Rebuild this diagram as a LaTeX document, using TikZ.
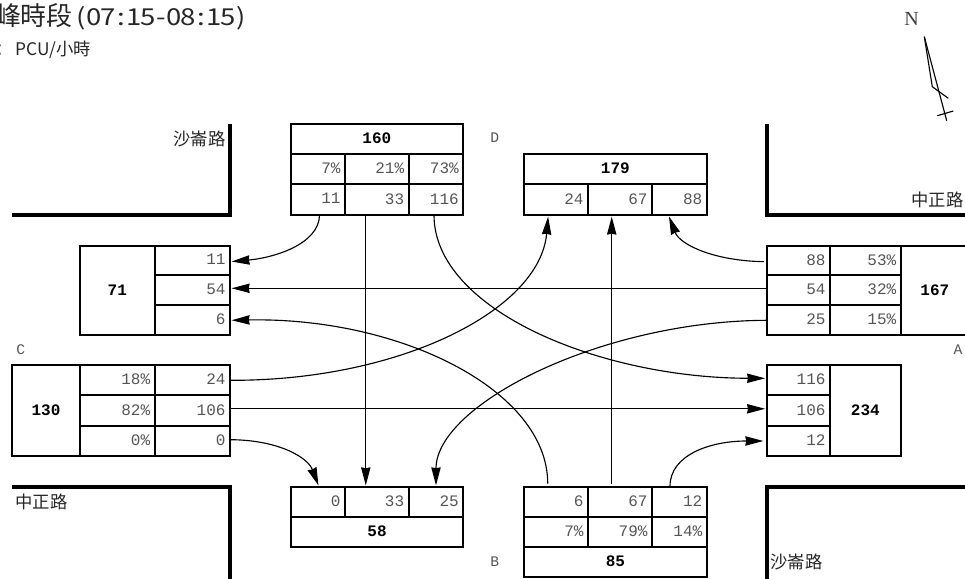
\documentclass[tikz,border=0pt]{standalone}
\usepackage{graphicx}
\usepackage{fontspec}
\usetikzlibrary{arrows.meta}
\setmainfont{Liberation Sans}
\setmonofont{Liberation Mono}
\newfontfamily\cjkfont{Noto Sans CJK TC}
\newfontfamily\serifn{Liberation Serif}
\definecolor{numgray}{HTML}{555555}
\newcommand\hw[1]{\makebox[10pt][c]{\fontsize{17.5}{18}\selectfont\scalebox{1.18}[1]{#1}}}
\tikzset{
  x=0.75pt,y=-0.75pt,
  every node/.style={outer sep=0pt,inner sep=0pt},
  cellbase/.style={draw=black,line width=1.5pt,anchor=north west,inner xsep=0pt,inner ysep=0pt},
  numtxt/.style={font=\ttfamily\fontsize{12}{12}\selectfont,text=numgray,align=right},
  boldtxt/.style={font=\ttfamily\bfseries\fontsize{12}{12}\selectfont,text=black,align=center},
  road/.style={line width=2.8pt,line cap=butt,line join=miter},
  flow/.style={line width=0.85pt,-{Stealth[length=13.5pt,width=7pt,inset=0.6pt]},shorten >=1.2pt},
  dirlabel/.style={font=\ttfamily\fontsize{11}{11}\selectfont,text=numgray},
  roadlabel/.style={font=\cjkfont\fontsize{13}{13}\selectfont,text=black!85},
  compass/.style={line width=0.85pt}
}
% name, x1, y1, x2, y2, text
\newcommand\ncell[6]{\node[cellbase,numtxt,minimum width={(#4-#2)*0.75pt},minimum height={(#5-#3)*0.75pt},text width={(#4-#2-9)*0.75pt}] (#1) at (#2,#3) {\raisebox{1pt}{#6}};}
\newcommand\bcell[6]{\node[cellbase,boldtxt,minimum width={(#4-#2)*0.75pt},minimum height={(#5-#3)*0.75pt},text width={(#4-#2-9)*0.75pt}] (#1) at (#2,#3) {\raisebox{1pt}{#6}};}
\begin{document}
\begin{tikzpicture}
\useasboundingbox (0,0) rectangle (965,579);
% title
\node[anchor=west,font=\cjkfont\fontsize{19.5}{20}\selectfont,text=black!85] (title) at (-5,17) {峰時段\kern1.2pt\hw{(}\hw{0}\hw{7}\hw{:}\hw{1}\hw{5}\hw{-}\hw{0}\hw{8}\hw{:}\hw{1}\hw{5}\hw{)}};
\node[anchor=center,font=\cjkfont\fontsize{13}{13}\selectfont,text=black!60] (colon) at (0.5,50) {：};
\node[anchor=west,font=\cjkfont\fontsize{13}{13}\selectfont,text=black!85] (unit) at (15.7,50) {PCU/小時};
% north
\node[font=\serifn\fontsize{15}{15}\selectfont,text=black!75] (north) at (911.7,19) {N};
\coordinate (n1) at (924.3,36.7);
\coordinate (n2) at (946.7,120.7);
\coordinate (n3) at (932.3,86.7);
\coordinate (n4) at (948.3,98.3);
\coordinate (n5) at (937.3,115.7);
\coordinate (n6) at (953.3,111);
\draw[compass] (n1) -- (n2);
\draw[compass] (n1) -- (n3) -- (n4);
\draw[compass] (n5) -- (n6);
% road corners
\draw[road] (230,124) -- (230,215) -- (12,215);
\draw[road] (767,124) -- (767,215) -- (966,215);
\draw[road] (12,487) -- (230,487) -- (230,579);
\draw[road] (767,579) -- (767,487) -- (966,487);
\node[roadlabel,anchor=east] (r1) at (225.5,139) {沙崙路};
\node[roadlabel,anchor=east] (r2) at (963.5,200) {中正路};
\node[roadlabel,anchor=west] (r3) at (15.5,502) {中正路};
\node[roadlabel,anchor=west] (r4) at (770.5,562) {沙崙路};
% direction letters
\node[dirlabel] (ld) at (494.7,138) {D};
\node[dirlabel] (lc) at (20.7,350) {C};
\node[dirlabel] (lb) at (494.7,562) {B};
\node[dirlabel] (la) at (958,350) {A};
% north-west block (160)
\bcell{t0}{290.5}{124}{463.3}{153.7}{160}
\ncell{tp1}{290.5}{153.7}{345}{183.7}{7\%}
\ncell{tp2}{345}{153.7}{408.7}{183.7}{21\%}
\ncell{tp3}{408.7}{153.7}{463.3}{183.7}{73\%}
\ncell{t11}{290.5}{183.7}{345}{215}{11}
\ncell{t33}{345}{183.7}{408.7}{215}{33}
\ncell{t116}{408.7}{183.7}{463.3}{215}{116}
% north-east block (179)
\bcell{d0}{524}{153.7}{706.7}{183.7}{179}
\ncell{d24}{524}{183.7}{588}{215}{24}
\ncell{d67}{588}{183.7}{652}{215}{67}
\ncell{d88}{652}{183.7}{706.7}{215}{88}
% east out (167)
\ncell{a88}{766.7}{245.7}{830}{275}{88}
\ncell{a54}{766.7}{275}{830}{305.3}{54}
\ncell{a25}{766.7}{305.3}{830}{335.3}{25}
\ncell{ap1}{830}{245.7}{900.7}{275}{53\%}
\ncell{ap2}{830}{275}{900.7}{305.3}{32\%}
\ncell{ap3}{830}{305.3}{900.7}{335.3}{15\%}
\bcell{a0}{900.7}{245.7}{969}{335.3}{167}
% west in (71)
\bcell{w0}{80}{245.7}{154.7}{335.3}{71}
\ncell{w11}{154.7}{245.7}{230}{275}{11}
\ncell{w54}{154.7}{275}{230}{305.3}{54}
\ncell{w6}{154.7}{305.3}{230}{335.3}{6}
% west out (130)
\bcell{c0}{12}{365.3}{80}{456}{130}
\ncell{cp1}{80}{365.3}{154.7}{395.3}{18\%}
\ncell{cp2}{80}{395.3}{154.7}{426}{82\%}
\ncell{cp3}{80}{426}{154.7}{456}{0\%}
\ncell{c24}{154.7}{365.3}{230}{395.3}{24}
\ncell{c106}{154.7}{395.3}{230}{426}{106}
\ncell{czero}{154.7}{426}{230}{456}{0}
% east in (234)
\ncell{e116}{766.7}{365.3}{830}{395.3}{116}
\ncell{e106}{766.7}{395.3}{830}{426}{106}
\ncell{e12}{766.7}{426}{830}{456}{12}
\bcell{e0}{830}{365.3}{900.7}{456}{234}
% south-west block (58)
\ncell{bzero}{290.7}{487}{345}{517.3}{0}
\ncell{b33}{345}{487}{408.7}{517.3}{33}
\ncell{b25}{408.7}{487}{463.3}{517.3}{25}
\bcell{b0}{290.7}{517.3}{463.3}{547.3}{58}
% south-east block (85)
\ncell{s6}{524}{487}{588}{517.3}{6}
\ncell{s67}{588}{487}{652}{517.3}{67}
\ncell{s12}{652}{487}{706.7}{517.3}{12}
\ncell{sp1}{524}{517.3}{588}{547.3}{7\%}
\ncell{sp2}{588}{517.3}{652}{547.3}{79\%}
\ncell{sp3}{652}{517.3}{706.7}{547.3}{14\%}
\bcell{s0}{524}{547.3}{706.7}{577.3}{85}
% connectors
\draw[flow] ([xshift=1.35pt]t11.south) .. controls (319,245) and (272,258) .. ([yshift=-1pt]w11.east);
\draw[flow] ([xshift=-8.3pt]t33.south) -- ([xshift=-8.3pt]b33.north);
\draw[flow] ([xshift=-1.5pt]t116.south) .. controls (434,310) and (600,378) .. ([yshift=1.5pt]e116.west);
\draw[flow] ([yshift=1.4pt]a54.west) -- ([yshift=1.4pt]w54.east);
\draw[flow] (a25.west) .. controls (600,321) and (436,405) .. (b25.north);
\draw[flow,shorten <=2pt] ([yshift=-1pt]a88.west) .. controls (715,261) and (680,245) .. ([xshift=-8.2pt]d88.south);
\draw[flow] (c24.east) .. controls (400,381) and (540,310) .. ([xshift=-5.8pt]d24.south);
\draw[flow] ([yshift=1.4pt]c106.east) -- ([yshift=1.4pt]e106.west);
\draw[flow] ([yshift=1pt]czero.east) .. controls (280,440) and (308,458) .. ([xshift=0.9pt]bzero.north);
\draw[flow,shorten <=2.6pt] ([xshift=-6.2pt]s67.north) -- ([xshift=-6.2pt]d67.south);
\draw[flow,shorten <=2.6pt] ([xshift=-6.2pt]s6.north) .. controls (547.7,390) and (400,317) .. (w6.east);
\draw[flow,shorten <=0.6pt,shorten >=2.5pt] ([xshift=-7pt]s12.north) .. controls (670,455) and (710,441) .. (e12.west);
\end{tikzpicture}
\end{document}
